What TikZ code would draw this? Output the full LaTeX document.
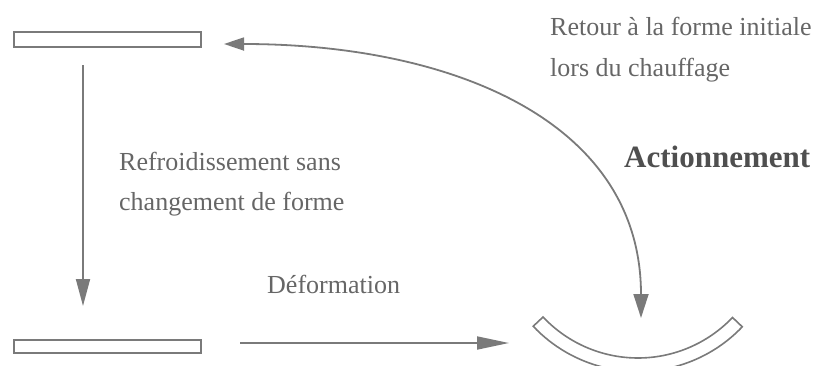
\documentclass[tikz,border=0pt]{standalone}
\usepackage{fontspec}
\setmainfont{Liberation Serif}
\usetikzlibrary{arrows.meta}
\definecolor{linegray}{HTML}{7A7A7A}
\definecolor{textgray}{HTML}{666666}
\begin{document}
\begin{tikzpicture}[x=1pt,y=-1pt,
  bar/.style={draw=linegray,line width=1.6pt,minimum width=187pt,inner sep=0pt,fill=white},
  conn/.style={draw=linegray,line width=1.8pt},
  lbl/.style={anchor=base west,inner sep=0pt,text=textgray,font=\fontsize{26}{31}\selectfont},
  big/.style={anchor=base west,inner sep=0pt,text=textgray!115,font=\fontsize{31}{36}\selectfont\bfseries}]
\useasboundingbox (0,0) rectangle (817,365);
% bars
\node[bar,minimum height=15pt] (top) at (107.5,39.5) {};
\node[bar,minimum height=13pt] (bot) at (107.5,346.5) {};
% bent bar
\coordinate (bc) at (638,227.5);
\draw[linegray,line width=1.6pt]
  ([shift={(136.7:130.5)}]bc) arc[start angle=136.7,end angle=43.6,radius=130.5]
  -- ([shift={(43.6:144)}]bc) arc[start angle=43.6,end angle=136.7,radius=144] -- cycle;
\coordinate (bent) at (641,318);
% connector coordinates
\coordinate (vA) at (83,65);
\coordinate (vB) at (83,306);
\coordinate (hA) at (240,343);
\coordinate (hB) at (509,343);
\coordinate (cA) at (224,44);
% arrows
\draw[conn,-{Triangle[length=27pt,width=14pt]}] (vA) -- (vB);
\draw[conn,-{Triangle[length=32pt,width=13pt]}] (hA) -- (hB);
\draw[conn,{Triangle[length=20pt,width=13pt]}-{Triangle[length=24pt,width=15pt]}]
  (cA) .. controls (450,44) and (641,120) .. (bent);
% texts
\node[lbl] (t1) at (550,35) {Retour à la forme initiale};
\node[lbl] (t2) at (550,76) {lors du chauffage};
\node[big] (t3) at (624,167) {Actionnement};
\node[lbl] (t4) at (119,170) {Refroidissement sans};
\node[lbl] (t5) at (119,210) {changement de forme};
\node[lbl] (t6) at (267,293) {Déformation};
\end{tikzpicture}
\end{document}
